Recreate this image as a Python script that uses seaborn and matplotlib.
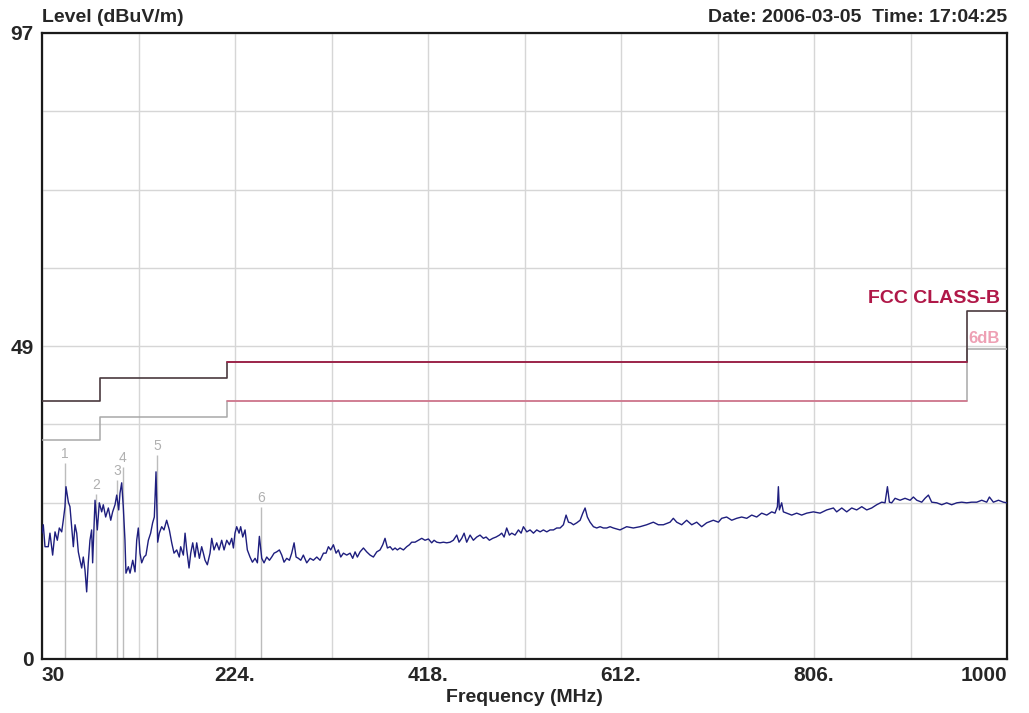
import numpy as np
import pandas as pd
import seaborn as sns
import matplotlib.pyplot as plt

freq_mhz = [
    30.0, 31.3, 33.0, 36.3, 38.0, 40.7, 43.1, 45.4, 47.4, 49.8, 51.4, 53.1, 54.1, 56.5, 58.1,
    59.8, 61.5, 63.2, 64.9, 66.5, 68.2, 69.9, 71.5, 73.2, 74.9, 76.5, 78.2, 79.9, 80.9, 83.3,
    85.6, 87.6, 90.0, 91.6, 94.0, 96.7, 99.1, 101.0, 103.4, 105.1, 107.1, 108.4, 110.1, 111.7,
    113.4, 114.4, 116.8, 118.5, 121.2, 123.5, 125.2, 126.8, 128.5, 130.2, 132.5, 134.5, 136.9,
    139.2, 141.2, 142.9, 144.6, 146.3, 147.9, 150.3, 152.6, 155.3, 158.0, 160.4, 162.7, 165.4,
    168.0, 169.4, 172.1, 173.8, 175.5, 177.8, 179.5, 181.5, 183.8, 185.5, 188.2, 190.5, 192.2,
    193.9, 196.2, 198.9, 200.6, 202.9, 205.6, 208.0, 210.6, 213.0, 215.7, 218.4, 220.7, 222.4,
    224.0, 225.7, 228.1, 229.7, 231.8, 234.1, 236.4, 239.1, 241.5, 244.2, 246.5, 248.5, 250.9,
    253.2, 255.9, 258.6, 260.9, 263.3, 265.9, 268.6, 271.0, 273.3, 276.0, 278.7, 281.0, 283.4,
    285.4, 287.7, 290.1, 292.7, 296.1, 299.5, 302.8, 306.2, 309.5, 312.9, 315.5, 317.9, 320.2,
    322.9, 325.6, 327.9, 330.3, 333.0, 336.3, 339.7, 342.3, 344.7, 347.0, 349.7, 353.1, 356.4,
    359.8, 363.1, 366.5, 369.8, 372.5, 374.8, 377.2, 379.9, 382.5, 384.9, 387.2, 389.9, 393.3,
    396.6, 399.3, 401.6, 405.0, 408.3, 411.7, 415.0, 418.4, 421.7, 424.1, 426.8, 430.1, 433.5,
    436.8, 440.2, 443.5, 446.9, 449.2, 451.9, 454.3, 456.9, 460.3, 463.6, 467.0, 470.3, 473.7,
    476.4, 479.7, 483.1, 486.4, 489.8, 492.1, 494.5, 497.1, 499.8, 502.2, 505.5, 508.9, 511.6,
    513.9, 517.3, 520.6, 524.0, 527.3, 530.7, 534.0, 537.4, 540.7, 544.1, 547.4, 550.8, 554.1,
    556.8, 559.2, 561.5, 564.2, 567.5, 570.9, 573.6, 575.9, 578.2, 580.9, 584.3, 587.6, 591.0,
    594.3, 597.7, 601.0, 604.3, 611.0, 617.7, 624.4, 631.1, 637.8, 644.5, 649.5, 654.6, 661.3,
    664.6, 668.0, 673.0, 678.0, 683.1, 688.1, 693.1, 698.1, 704.8, 709.9, 713.2, 718.2, 723.3,
    728.3, 733.3, 738.4, 743.4, 748.4, 753.4, 758.5, 763.5, 766.8, 769.2, 770.2, 771.2, 773.5,
    775.2, 778.6, 783.6, 788.6, 793.6, 798.7, 805.4, 812.1, 818.8, 825.5, 828.8, 833.9, 838.9,
    843.9, 848.9, 854.0, 859.0, 864.0, 869.0, 874.1, 877.4, 879.8, 881.8, 884.1, 887.5, 892.5,
    897.5, 902.6, 905.9, 909.3, 914.3, 917.6, 921.0, 924.3, 929.4, 934.4, 939.4, 944.4, 949.5,
    954.5, 959.5, 964.5, 969.6, 974.6, 979.6, 982.3, 986.3, 991.4, 996.4, 1000.0,
]
level_dbuv = [
    19.5, 20.8, 17.4, 17.4, 19.5, 16.1, 19.7, 18.4, 20.3, 19.7, 21.5, 23.6, 26.7, 24.3, 23.6,
    20.5, 17.4, 20.8, 19.5, 16.6, 15.3, 14.1, 15.8, 13.8, 10.4, 14.9, 18.4, 20.0, 14.9, 24.6,
    20.0, 24.2, 22.8, 23.9, 22.0, 23.4, 21.5, 22.8, 23.9, 25.4, 23.1, 25.7, 27.3, 23.6,
    18.4, 13.3, 14.3, 13.3, 15.3, 13.5, 18.4, 20.3, 16.4, 14.9, 15.8, 16.1, 18.4,
    19.5, 21.1, 22.0, 29.0, 18.1, 19.5, 20.5, 20.0, 21.5, 20.0, 18.0, 16.4, 16.9,
    15.8, 17.4, 16.1, 19.5, 16.9, 14.1, 16.4, 18.0, 15.8, 18.0, 15.6, 17.4, 16.4,
    15.3, 14.6, 16.4, 18.7, 16.9, 18.0, 16.9, 18.4, 16.9, 18.4, 17.7, 18.7, 17.2,
    19.5, 20.5, 19.5, 20.5, 18.9, 20.0, 16.9, 15.8, 15.0, 15.6, 14.9, 19.0, 15.6,
    14.9, 15.8, 15.3, 15.8, 16.4, 16.6, 16.9, 16.1, 15.0, 15.6, 15.3, 16.4, 18.0,
    15.8, 15.6, 15.3, 16.1, 14.9, 15.6, 15.3, 15.8, 15.3, 16.4, 16.4, 17.4, 16.9,
    17.7, 16.4, 16.9, 15.8, 16.4, 16.1, 16.4, 15.6, 16.6, 15.8, 16.6, 17.2, 16.6,
    16.1, 15.8, 16.6, 16.9, 17.7, 18.7, 17.2, 17.4, 16.9, 17.2, 16.9, 17.2, 16.9,
    17.4, 17.7, 18.1, 18.1, 18.4, 18.7, 18.4, 18.6, 18.0, 18.4, 18.1, 18.0, 18.1,
    18.0, 18.1, 18.4, 19.2, 18.1, 18.7, 19.5, 18.1, 19.2, 18.4, 18.9, 19.2, 18.7,
    18.9, 18.4, 18.7, 18.9, 19.2, 19.5, 18.9, 20.3, 19.2, 19.5, 19.2, 20.0, 19.5,
    20.5, 19.7, 20.0, 19.5, 20.0, 19.7, 20.0, 19.7, 20.0, 20.0, 20.3, 20.3, 20.8,
    22.3, 21.2, 21.1, 20.8, 21.1, 21.5, 22.6, 23.4, 22.0, 21.2, 20.5, 20.3, 20.5,
    20.3, 20.3, 20.5, 20.3, 20.0, 20.5, 20.3, 20.5, 20.8, 21.2, 20.8, 20.8, 21.2,
    21.8, 21.2, 20.8, 21.5, 20.8, 21.2, 20.5, 21.1, 21.5, 21.2, 21.8, 22.0, 21.5,
    21.8, 22.0, 21.8, 22.3, 22.0, 22.6, 22.3, 22.8, 22.6, 23.6, 26.7, 23.1, 24.2,
    22.8, 22.6, 22.3, 22.6, 22.3, 22.6, 22.8, 22.6, 23.1, 23.4, 22.8, 23.4, 22.8,
    23.4, 23.1, 23.6, 23.1, 23.4, 23.9, 24.3, 24.2, 26.7, 24.3, 24.2, 24.9, 24.6,
    24.9, 24.6, 25.1, 24.6, 24.3, 24.9, 25.4, 24.3, 24.2, 23.9, 24.2, 23.9, 24.2,
    24.3, 24.2, 24.3, 24.3, 24.6, 24.3, 25.1, 24.3, 24.6, 24.3, 24.2,
]

# FCC class B limit and the 6 dB margin line (step breakpoints)
limit_freq = [30, 88, 88, 216, 216, 960, 960, 1000]
limit_level = [40, 40, 43.5, 43.5, 46, 46, 54, 54]
margin_level = [34, 34, 37.5, 37.5, 40, 40, 48, 48]

# peak markers
marker_freq = [53.1, 84.3, 105.4, 111.4, 145.6, 250.1]
marker_level = [30.4, 25.6, 27.8, 29.7, 31.6, 23.5]
marker_labels = ["1", "2", "3", "4", "5", "6"]

xtick_vals = [30, 224, 418, 612, 806, 1000]
xtick_labels = ["30", "224.", "418.", "612.", "806.", "1000"]
ytick_vals = [0, 48.5, 97]
ytick_labels = ["0", "49", "97"]

sns.set_style("white")
FONT = ["Liberation Sans Narrow", "Liberation Sans", "DejaVu Sans"]
plt.rcParams["font.family"] = FONT

fig = plt.figure(figsize=(10.29, 7.13), dpi=100)
ax = fig.add_axes([42 / 1029, 54 / 713, 965 / 1029, 626 / 713])

df = pd.DataFrame({"Frequency (MHz)": freq_mhz, "Level": level_dbuv})

# markers first, so the trace sits on top
ax.vlines(marker_freq, 0, marker_level, color="#bcbcbc", lw=1, zorder=2)
for f, lv, lab in zip(marker_freq, marker_level, marker_labels):
    ax.text(f, lv + 0.3, lab, ha="center", va="bottom", fontsize=10, color="#b0b0b0")

sns.lineplot(x=limit_freq, y=margin_level, ax=ax, color="#a8a8a8", lw=1.1,
             estimator=None, sort=False, zorder=3)
sns.lineplot(x=limit_freq[4:6], y=margin_level[4:6], ax=ax, color="#d8708a", lw=1.1,
             estimator=None, sort=False, zorder=3)
sns.lineplot(x=limit_freq, y=limit_level, ax=ax, color="#4a3a3e", lw=1.2,
             estimator=None, sort=False, zorder=3)
sns.lineplot(x=limit_freq[4:6], y=limit_level[4:6], ax=ax, color="#a8204a", lw=1.2,
             estimator=None, sort=False, zorder=3)

sns.lineplot(data=df, x="Frequency (MHz)", y="Level", ax=ax, color="#1e1e7e", lw=1.0,
             estimator=None, sort=False, zorder=4)

ax.set_xlim(30, 1000)
ax.set_ylim(0, 97)

ax.set_xticks(xtick_vals)
ax.set_xticklabels(xtick_labels)
ax.set_yticks(ytick_vals)
ax.set_yticklabels(ytick_labels)
ax.set_xticks(np.arange(30, 1001, 97), minor=True)
ax.set_yticks(np.linspace(0, 97, 9), minor=True)
ax.grid(which="both", color="#d6d6d6", lw=1.0)
ax.set_axisbelow(True)
ax.tick_params(which="both", length=0)
ax.tick_params(axis="x", pad=5, labelsize=15)
ax.tick_params(axis="y", pad=6, labelsize=15)
for lab in ax.get_xticklabels() + ax.get_yticklabels():
    lab.set_fontweight("bold")
ax.get_xticklabels()[0].set_ha("left")
ax.get_xticklabels()[-1].set_ha("right")

for s in ax.spines.values():
    s.set_color("#1a1a1a")
    s.set_linewidth(1.6)

ax.set_xlabel("Frequency (MHz)", fontsize=14, fontweight="bold", labelpad=3)
ax.set_ylabel("")

fig.text(42 / 1029, 1 - 17 / 713, "Level (dBuV/m)", ha="left", va="center",
         fontsize=14, fontweight="bold")
fig.text(1007 / 1029, 1 - 17 / 713, "Date: 2006-03-05  Time: 17:04:25", ha="right",
         va="center", fontsize=14, fontweight="bold")

ax.text(993, 55.9, "FCC CLASS-B", ha="right", va="center", fontsize=14,
        fontweight="bold", color="#b01848")
ax.text(993, 49.6, "6dB", ha="right", va="center", fontsize=12,
        fontweight="bold", color="#eea0b4")

fig.savefig("out.png", dpi=100)
